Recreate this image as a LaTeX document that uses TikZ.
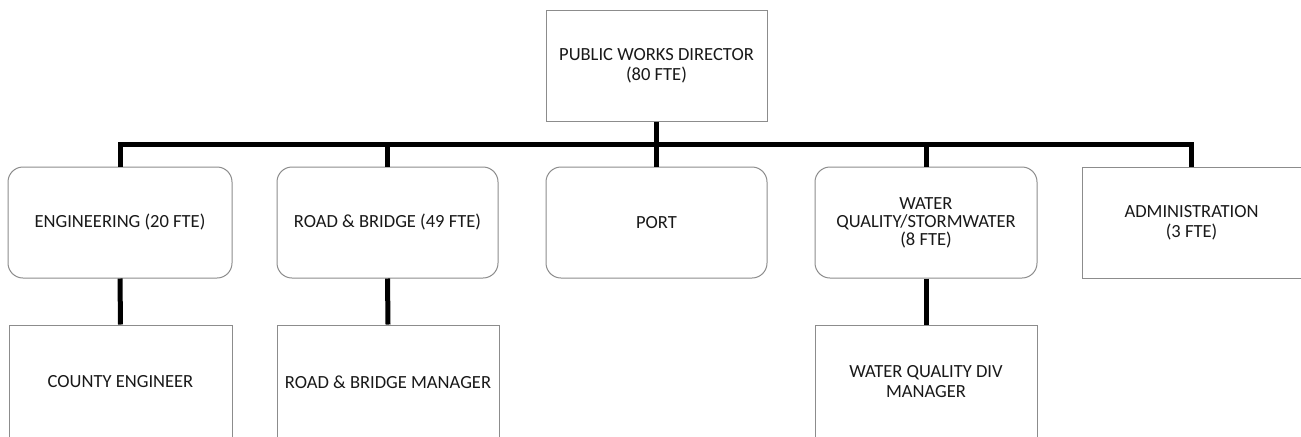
\documentclass[tikz,border=0pt]{standalone}
\usepackage{fontspec}
\setmainfont{Carlito}
\definecolor{boxline}{RGB}{140,140,140}
\definecolor{txt}{RGB}{25,25,25}
\tikzset{
  base/.style={draw=boxline, line width=0.75pt, fill=white, text=txt, align=center,
    inner sep=0pt, font=\fontsize{13.9pt}{15pt}\selectfont},
  sqbox/.style={base},
  rdbox/.style={base, rounded corners=11.25pt},
  conn/.style={line width=3.75pt, draw=black},
}
\begin{document}
\begin{tikzpicture}[x=0.75pt,y=-0.75pt]
\useasboundingbox (0,0) rectangle (1301,436);
% top
\node[sqbox, minimum width=165.75pt, minimum height=83.25pt] (dir) at (656.5,65.5)
  {PUBLIC WORKS DIRECTOR\\(80 FTE)};
% row 1
\node[rdbox, minimum width=168pt, minimum height=83.25pt] (eng) at (120,222.5) {ENGINEERING (20 FTE)};
\node[rdbox, minimum width=165.75pt, minimum height=83.25pt] (rb) at (387.5,222.5) {ROAD \& BRIDGE (49 FTE)};
\node[rdbox, minimum width=165.75pt, minimum height=83.25pt] (port) at (656.5,222.5) {PORT};
\node[rdbox, minimum width=166.5pt, minimum height=83.25pt, font=\fontsize{13.9pt}{13.5pt}\selectfont] (wq) at (926,222.5)
  {WATER\\QUALITY/STORMWATER\\(8 FTE)};
\node[sqbox, minimum width=164.25pt, minimum height=83.25pt] (adm) at (1191.5,222.5)
  {ADMINISTRATION\\(3 FTE)};
% row 2
\node[sqbox, minimum width=167.25pt, minimum height=85.5pt] (ce) at (120.5,382) {COUNTY ENGINEER};
\node[sqbox, minimum width=166.5pt, minimum height=85.5pt] (rbm) at (388,382) {ROAD \& BRIDGE MANAGER};
\node[sqbox, minimum width=166.5pt, minimum height=85.5pt] (wqm) at (926,382)
  {WATER QUALITY DIV\\MANAGER};
% connectors
\coordinate (bus) at (656.5,144);
\draw[conn] (eng.north) -- (eng.north |- bus) -| (adm.north);
\draw[conn] (dir.south) -- (port.north);
\draw[conn] (rb.north) -- (rb.north |- bus);
\draw[conn] (wq.north) -- (wq.north |- bus);
\draw[conn] (eng.south) -- (ce.north);
\draw[conn] (rb.south) -- (rbm.north);
\draw[conn] (wq.south) -- (wqm.north);
\end{tikzpicture}
\end{document}
